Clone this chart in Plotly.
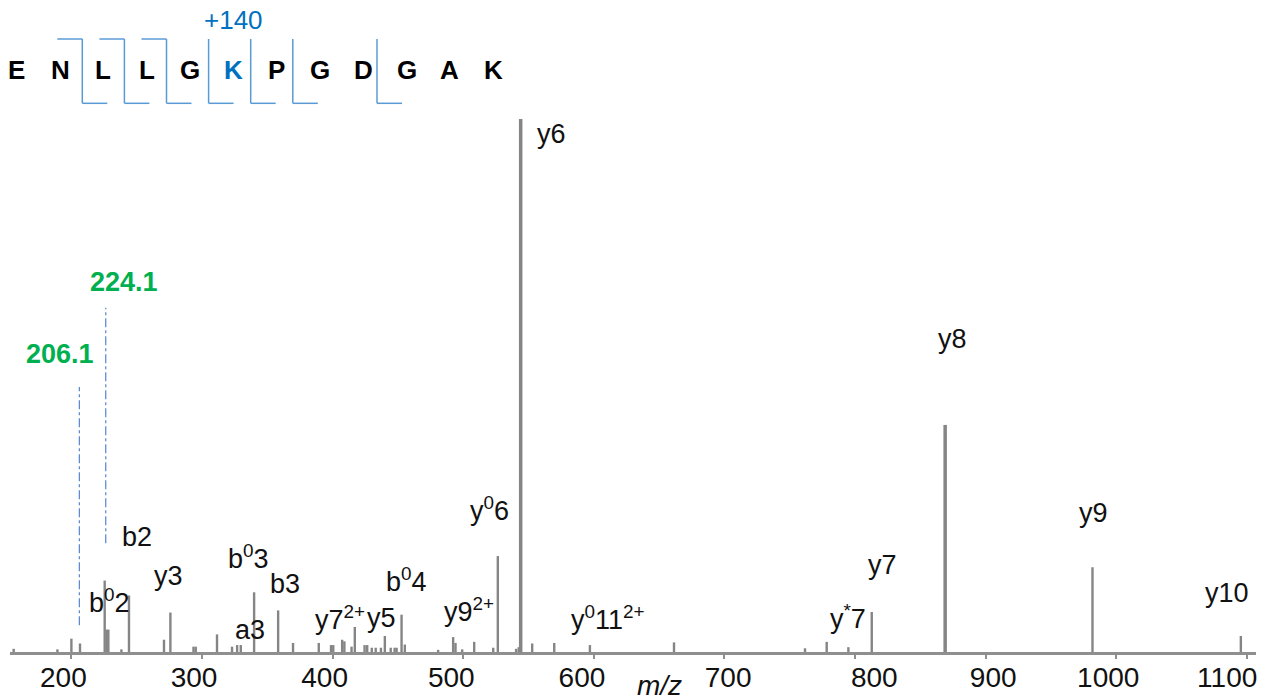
import plotly.graph_objects as go

# ---------------- data ----------------
peak_mz = [155.8, 189.3, 200.0, 206.6, 225.5, 227.0, 228.3, 238.3, 244.1,
           270.9, 275.8, 293.5, 295.2, 311.5, 323.0, 326.9, 329.7, 339.9,
           358.3, 369.7, 389.4, 398.8, 400.5, 407.3, 409.0, 414.5, 417.0,
           424.5, 426.5, 430.0, 433.0, 437.0, 440.0, 444.5, 447.5, 449.0,
           452.8, 455.3, 480.8, 492.3, 494.1, 499.2, 508.4, 523.0, 526.5,
           540.5, 542.5, 544.0, 552.8, 569.7, 597.0, 661.4, 761.7, 778.3,
           794.9, 812.8, 869.0, 981.8, 1095.4]
peak_int = [0.6, 0.5, 2.5, 1.6, 13.4, 4.2, 4.2, 0.5, 10.6,
            2.3, 7.4, 1.0, 1.0, 3.3, 1.0, 1.3, 1.3, 11.2,
            7.8, 1.7, 1.7, 1.3, 1.3, 2.3, 2.0, 1.0, 4.7,
            1.3, 1.3, 0.8, 0.8, 0.8, 3.0, 0.8, 0.8, 0.8,
            7.0, 1.4, 0.4, 2.8, 1.7, 0.5, 1.9, 0.8, 18.0,
            0.6, 0.9, 100.0, 1.6, 1.7, 1.3, 1.8, 0.7, 1.9,
            0.9, 7.5, 42.6, 15.9, 3.0]

ion_labels = ["y6", "y8", "y9", "y10", "y7", "y<sup>*</sup>7",
              "y<sup>0</sup>11<sup>2+</sup>", "y<sup>0</sup>6", "y9<sup>2+</sup>",
              "b<sup>0</sup>4", "y7<sup>2+</sup>", "y5", "b3", "b<sup>0</sup>3",
              "a3", "y3", "b2", "b<sup>0</sup>2"]
ion_label_mz = [567.9, 875.0, 982.3, 1085.0, 821.4, 794.6,
                610.9, 520.4, 504.3,
                456.8, 405.5, 437.7, 363.4, 335.8,
                336.6, 274.5, 250.0, 229.3]
ion_label_int = [97.1, 58.7, 26.1, 11.1, 16.4, 6.6,
                 6.3, 26.8, 7.8,
                 13.6, 6.4, 6.4, 12.7, 17.8,
                 4.2, 14.2, 21.6, 9.5]

diag_text = ["206.1", "224.1"]
diag_line_mz = [206.1, 226.3]
diag_line_low = [5.0, 20.4]
diag_line_high = [49.7, 64.6]
diag_text_mz = [191.0, 240.6]
diag_text_int = [55.9, 69.4]

sequence = ["E", "N", "L", "L", "G", "K", "P", "G", "D", "G", "A", "K"]
modified_position = 5
modification = "+140"
b_cleavages = [2, 3, 4]
y_cleavages = [2, 3, 4, 5, 6, 7, 9]

x_ticks = [200, 300, 400, 500, 600, 700, 800, 900, 1000, 1100]

# ---------------- layout constants ----------------
W, H = 1263, 700
ML, MR, MT, MB = 10, 7, 103, 48
PW, PH = W - ML - MR, H - MT - MB
FONT = "Liberation Sans, Arial, sans-serif"
PEAK = "#858585"
BLUE = "#5B9BD5"
GREEN = "#00B050"
NBSP = "\u00a0"
# per-label nudge (in non-breaking spaces; + pushes right, - pushes left)
tick_nudge = {200: 0, 300: 0, 400: 0, 500: -1, 600: -1, 700: 3, 800: 7,
              900: 4, 1000: 0, 1100: -3}


def tick_label(v):
    n = tick_nudge.get(v, 0)
    return NBSP * n + str(v) if n > 0 else str(v) + NBSP * (-n)


def px_x(px):
    return (px - ML) / PW


def px_y(py):
    return (H - MB - py) / PH


fig = go.Figure()

# peaks as sticks, split into thick (major) and thin
for thick in (False, True):
    xs, ys = [], []
    for m, v in zip(peak_mz, peak_int):
        if (v > 30) == thick:
            xs += [m, m, None]
            ys += [0, v, None]
    fig.add_trace(go.Scatter(x=xs, y=ys, mode="lines",
                             line=dict(color=PEAK, width=3.5 if thick else 2.4),
                             hoverinfo="skip", showlegend=False))

# diagnostic ion dash-dot lines
for m, lo, hi in zip(diag_line_mz, diag_line_low, diag_line_high):
    fig.add_trace(go.Scatter(x=[m, m], y=[lo, hi], mode="lines",
                             line=dict(color="#5585CF", width=1.2, dash="dashdot"),
                             hoverinfo="skip", showlegend=False))

annotations = []
for t, m, v in zip(ion_labels, ion_label_mz, ion_label_int):
    annotations.append(dict(x=m, y=v, xref="x", yref="y", text=t, showarrow=False,
                            xanchor="center", yanchor="middle",
                            font=dict(family=FONT, size=27, color="#111111")))
for t, m, v in zip(diag_text, diag_text_mz, diag_text_int):
    annotations.append(dict(x=m, y=v, xref="x", yref="y", text="<b>%s</b>" % t,
                            showarrow=False, xanchor="center", yanchor="middle",
                            font=dict(family=FONT, size=27, color=GREEN)))

# peptide sequence
seq_x0, seq_step, seq_y = 16.7, 43.33, 70
for i, aa in enumerate(sequence):
    col = "#0070C0" if i == modified_position else "#000000"
    annotations.append(dict(x=px_x(seq_x0 + i * seq_step), y=px_y(seq_y),
                            xref="paper", yref="paper", text="<b>%s</b>" % aa,
                            showarrow=False, xanchor="center", yanchor="middle",
                            font=dict(family=FONT, size=26, color=col)))
annotations.append(dict(x=px_x(seq_x0 + modified_position * seq_step), y=px_y(20),
                        xref="paper", yref="paper", text=modification,
                        showarrow=False, xanchor="center", yanchor="middle",
                        font=dict(family=FONT, size=26, color="#0070C0")))

# m/z axis title
annotations.append(dict(x=px_x(659), y=px_y(685), xref="paper", yref="paper",
                        text="<i>m/z</i>", showarrow=False, xanchor="center",
                        yanchor="middle", font=dict(family=FONT, size=28, color="#111111")))

# fragmentation brackets
shapes = []
top_y, bot_y, arm = px_y(39), px_y(103.3), 25
cut_x0, cut_step = -1.9, 42.1
cuts = sorted(set(b_cleavages) | set(y_cleavages))
for k in cuts:
    xv = cut_x0 + k * cut_step
    line = dict(color=BLUE, width=1.5)
    shapes.append(dict(type="line", xref="paper", yref="paper",
                       x0=px_x(xv), x1=px_x(xv), y0=top_y, y1=bot_y, line=line))
    if k in b_cleavages:
        shapes.append(dict(type="line", xref="paper", yref="paper",
                           x0=px_x(xv - arm), x1=px_x(xv), y0=top_y, y1=top_y, line=line))
    if k in y_cleavages:
        shapes.append(dict(type="line", xref="paper", yref="paper",
                           x0=px_x(xv), x1=px_x(xv + arm), y0=bot_y, y1=bot_y, line=line))

fig.update_layout(
    width=W, height=H,
    margin=dict(l=ML, r=MR, t=MT, b=MB, autoexpand=False),
    paper_bgcolor="white", plot_bgcolor="white",
    showlegend=False, hovermode=False,
    annotations=annotations, shapes=shapes,
    xaxis=dict(range=[153, 1107], tickvals=x_ticks,
               ticktext=[tick_label(v) for v in x_ticks],
               showgrid=False, zeroline=False, showline=True, linecolor="#8f8f8f",
               linewidth=3, ticks="outside", ticklen=4, tickwidth=1.5,
               ticklabelshift=-8, ticklabelstandoff=-6,
               ticklabeloverflow="allow", automargin=False,
               tickcolor="#8f8f8f", tickfont=dict(family=FONT, size=28, color="#111111")),
    yaxis=dict(range=[0, 103], visible=False, showgrid=False, zeroline=False,
               automargin=False),
)

fig.write_html("out.html", config={"displayModeBar": False})
